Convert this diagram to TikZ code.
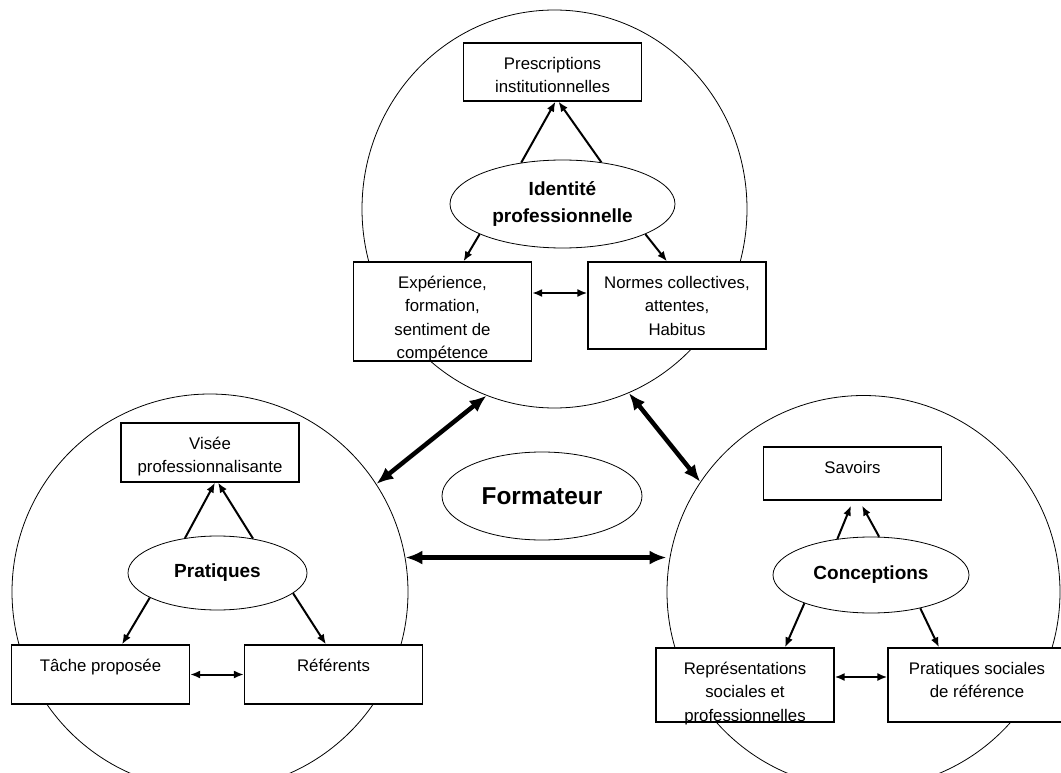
\documentclass[tikz,border=0pt]{standalone}
\usepackage{fontspec}
\setmainfont{Liberation Sans}
\usetikzlibrary{shapes.geometric,arrows.meta}

\newcommand{\texte}[2]{\parbox[c][#1pt][t]{178pt}{\centering\vspace*{10pt}\strut #2}}

\begin{document}
\begin{tikzpicture}[x=1pt,y=-1pt,>={Latex[length=10pt,width=8pt]},->,line width=2pt,
  zone/.style={ellipse,draw,line width=0.8pt,inner sep=0pt},
  cadre/.style={rectangle,draw,fill=white,line width=1.2pt,inner sep=0pt,font=\fontsize{16.8}{23.5}\selectfont},
  pole/.style={ellipse,draw,fill=white,line width=0.8pt,inner sep=0pt,align=center,font=\bfseries\fontsize{19}{27}\selectfont},
  lien/.style={>={Latex[length=17pt,width=14pt]},<->,line width=4.5pt}]

\useasboundingbox (0,0) rectangle (1061,773);

\node[zone,minimum width=385pt,minimum height=398pt](zid) at (554.5,209){};
\node[zone,minimum width=396pt,minimum height=396pt](zpr) at (210,592){};
\node[zone,minimum width=393pt,minimum height=393pt](zco) at (863.5,592){};

\path[lien](zpr.33) edge (zid.250)
  (zid.292) edge (zco.146)
  (zpr.10) edge (zco.west |- zpr.10);

\node[pole,minimum width=200pt,minimum height=88pt,font=\bfseries\fontsize{24.4}{28}\selectfont](form) at (542,496){Formateur};

\node[cadre](pres) at (552.5,72){\texte{58}{Prescriptions\\institutionnelles}};
\node[pole,minimum width=225pt,minimum height=88pt](idp) at (562.5,204){Identité\\professionnelle};
\node[cadre](exp) at (442.5,311.5){\texte{99}{Expérience,\\formation,\\sentiment de\\compétence}};
\node[cadre](nor) at (677,305.5){\texte{87}{Normes collectives,\\attentes,\\Habitus}};

\node[cadre](vis) at (210,452.5){\texte{59}{Visée\\professionnalisante}};
\node[pole,minimum width=179pt,minimum height=74pt](prat) at (217.5,573){Pratiques};
\node[cadre](tac) at (100.5,674.5){\texte{59}{Tâche proposée}};
\node[cadre](ref) at (333.5,674.5){\texte{59}{Référents}};

\node[cadre](sav) at (852.5,473.5){\texte{53}{Savoirs}};
\node[pole,minimum width=196pt,minimum height=76pt](conc) at (871,575){Conceptions};
\node[cadre](rep) at (745,685){\texte{74}{Représentations\\sociales et\\professionnelles}};
\node[cadre](psr) at (977,685){\texte{74}{Pratiques sociales\\de référence}};

\path(idp.135) edge ([xshift=3pt]pres.south)
     (idp.47) edge ([xshift=6pt]pres.south)
     (idp.200) edge ([xshift=21pt]exp.north)
     (idp.340) edge ([xshift=-10pt]nor.north)
     ([yshift=18.5pt]exp.east) edge[<->] ([yshift=12.5pt]nor.west)
     (prat.133) edge ([xshift=5pt]vis.south)
     (prat.44) edge ([xshift=8pt]vis.south)
     (prat.200) edge ([xshift=21.5pt]tac.north)
     (prat.345) edge ([xshift=-7.5pt]ref.north)
     (tac) edge[<->] (ref)
     (conc.133) edge ([xshift=-1.5pt,yshift=-5pt]sav.south)
     (conc.78) edge ([xshift=9.5pt,yshift=-5pt]sav.south)
     (conc.203) edge ([xshift=40pt]rep.north)
     (conc.326) edge ([xshift=-38pt]psr.north)
     ([yshift=8pt]rep.east) edge[<->] ([yshift=8pt]psr.west);

\end{tikzpicture}
\end{document}
